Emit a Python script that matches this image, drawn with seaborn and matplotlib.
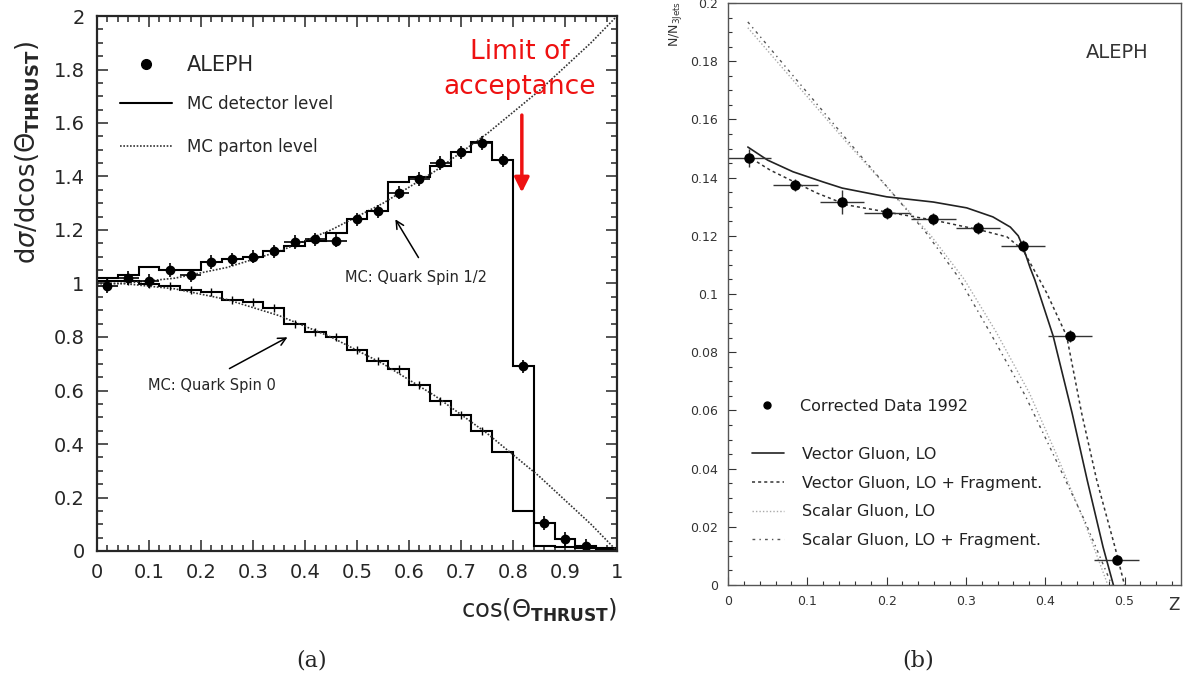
import numpy as np
import pandas as pd
import seaborn as sns
import matplotlib.pyplot as plt
from matplotlib.lines import Line2D
from matplotlib.ticker import MultipleLocator, FuncFormatter

## Data for panel (a): polar angle of the thrust axis
bin_edges = [0.00, 0.04, 0.08, 0.12, 0.16, 0.20, 0.24, 0.28, 0.32, 0.36, 0.40, 0.44, 0.48,
             0.52, 0.56, 0.60, 0.64, 0.68, 0.72, 0.76, 0.80, 0.84, 0.88, 0.92, 0.96, 1.00]
bin_centers = [0.02, 0.06, 0.10, 0.14, 0.18, 0.22, 0.26, 0.30, 0.34, 0.38, 0.42, 0.46,
               0.50, 0.54, 0.58, 0.62, 0.66, 0.70, 0.74, 0.78, 0.82, 0.86, 0.90, 0.94, 0.98]
hist_half = [1.02, 1.03, 1.06, 1.05, 1.05, 1.08, 1.09, 1.10, 1.12, 1.14, 1.16, 1.19, 1.24,
             1.27, 1.38, 1.40, 1.44, 1.49, 1.53, 1.46, 0.69, 0.105, 0.045, 0.02, 0.01]
hist_zero = [1.01, 1.01, 1.00, 0.99, 0.975, 0.97, 0.94, 0.93, 0.91, 0.85, 0.82, 0.80, 0.75,
             0.71, 0.68, 0.62, 0.56, 0.51, 0.45, 0.37, 0.15, 0.02, 0.015, 0.01, 0.005]
aleph_x = bin_centers[:24]
aleph_y = [0.99, 1.02, 1.01, 1.05, 1.03, 1.08, 1.09, 1.10, 1.12, 1.155, 1.165, 1.16, 1.24,
           1.27, 1.34, 1.39, 1.45, 1.49, 1.525, 1.46, 0.69, 0.105, 0.045, 0.02]
cos_grid = [0.00, 0.05, 0.10, 0.15, 0.20, 0.25, 0.30, 0.35, 0.40, 0.45, 0.50,
            0.55, 0.60, 0.65, 0.70, 0.75, 0.80, 0.85, 0.90, 0.95, 1.00]
parton_half = [1.00, 1.00, 1.01, 1.02, 1.04, 1.06, 1.09, 1.12, 1.16, 1.20, 1.25,
               1.30, 1.36, 1.42, 1.49, 1.56, 1.64, 1.72, 1.81, 1.90, 2.00]
parton_zero = [1.00, 1.00, 0.99, 0.98, 0.96, 0.94, 0.91, 0.88, 0.84, 0.80, 0.75,
               0.70, 0.64, 0.58, 0.51, 0.44, 0.36, 0.28, 0.19, 0.10, 0.00]

## Data for panel (b): Z distribution
z_data = [0.026, 0.085, 0.144, 0.200, 0.259, 0.315, 0.372, 0.431, 0.490]
n_data = [0.1467, 0.1375, 0.1316, 0.1278, 0.1258, 0.1227, 0.1165, 0.0856, 0.0086]
n_err = [0.003, 0.002, 0.004, 0.002, 0.002, 0.002, 0.002, 0.002, 0.001]
vg_z = [0.025, 0.05, 0.082, 0.12, 0.144, 0.2, 0.259, 0.301, 0.334, 0.356, 0.366, 0.372,
        0.381, 0.387, 0.41, 0.434, 0.453, 0.473, 0.486]
vg_n = [0.1505, 0.146, 0.142, 0.1385, 0.1364, 0.1334, 0.1316, 0.1296, 0.1265, 0.123, 0.120,
        0.1162, 0.109, 0.1048, 0.0856, 0.059, 0.036, 0.013, 0.0]
vf_z = [0.03, 0.053, 0.112, 0.15, 0.208, 0.259, 0.318, 0.352, 0.372, 0.393, 0.402, 0.427,
        0.446, 0.465, 0.488, 0.50]
vf_n = [0.1465, 0.1426, 0.1347, 0.1306, 0.1278, 0.1254, 0.122, 0.1196, 0.1151, 0.1048,
        0.1003, 0.0856, 0.059, 0.036, 0.013, 0.0]
sg_z = [0.025, 0.15, 0.256, 0.298, 0.338, 0.38, 0.414, 0.449, 0.479]
sg_n = [0.1915, 0.152, 0.120, 0.105, 0.087, 0.066, 0.045, 0.022, 0.0]
sf_z = [0.025, 0.15, 0.25, 0.29, 0.33, 0.375, 0.41, 0.45, 0.484]
sf_n = [0.1935, 0.153, 0.121, 0.106, 0.087, 0.065, 0.045, 0.022, 0.0]

sns.set_style("ticks")
plt.rcParams['font.family'] = ['DejaVu Sans']

W, H = 1183, 679
fig = plt.figure(figsize=(W / 100, H / 100), dpi=100)
ax1 = fig.add_axes([97 / W, (H - 551) / H, 520 / W, 535 / H])
ax2 = fig.add_axes([728 / W, (H - 585) / H, 453 / W, 582 / H])

fmt = FuncFormatter(lambda v, p: f'{v:g}')

# ---------------- panel (a)
dots = (0, (1, 1))
sns.lineplot(x=cos_grid, y=parton_half, ax=ax1, color='#333333', lw=1.2, linestyle=dots,
             sort=False, estimator=None)
sns.lineplot(x=cos_grid, y=parton_zero, ax=ax1, color='#333333', lw=1.2, linestyle=dots,
             sort=False, estimator=None)
ax1.stairs(hist_half, bin_edges, color='black', lw=1.5, baseline=None)
ax1.stairs(hist_zero, bin_edges, color='black', lw=1.5, baseline=None)
ax1.errorbar(bin_centers[:19], hist_zero[:19], yerr=0.015, fmt='none', ecolor='black', elinewidth=1)
ax1.errorbar(aleph_x, aleph_y, xerr=0.02, yerr=0.025, fmt='o', color='black', ms=6,
             elinewidth=1.2, capsize=0)

ax1.set_xlim(0, 1)
ax1.set_ylim(0, 2)
ax1.xaxis.set_major_locator(MultipleLocator(0.1))
ax1.xaxis.set_minor_locator(MultipleLocator(0.02))
ax1.yaxis.set_major_locator(MultipleLocator(0.2))
ax1.yaxis.set_minor_locator(MultipleLocator(0.05))
ax1.xaxis.set_major_formatter(fmt)
ax1.yaxis.set_major_formatter(fmt)
ax1.tick_params(which='both', direction='in', top=True, right=True, width=1.1, labelsize=14)
ax1.tick_params(which='major', length=8, pad=9)
ax1.tick_params(which='minor', length=4)
for s in ax1.spines.values():
    s.set_linewidth(1.6)
ax1.set_xlabel('')
ax1.set_ylabel('')

leg_a1 = ax1.legend([Line2D([], [], marker='o', ls='none', color='black', ms=7)], ['ALEPH'],
                    loc='upper left', bbox_to_anchor=(0.044, 0.927), frameon=False, fontsize=15,
                    handlelength=2.5, handletextpad=0.7, borderpad=0, borderaxespad=0)
ax1.add_artist(leg_a1)
ax1.legend([Line2D([], [], color='black', lw=1.5), Line2D([], [], color='#333333', lw=1.2, ls=dots)],
           ['MC detector level', 'MC parton level'], loc='upper left', bbox_to_anchor=(0.044, 0.852),
           frameon=False, fontsize=12, handlelength=3.1, handletextpad=0.9, labelspacing=1.5,
           borderpad=0, borderaxespad=0)

ax1.annotate('', xy=(0.571, 1.249), xytext=(0.621, 1.088),
             arrowprops=dict(arrowstyle='->', color='black', lw=1.1, mutation_scale=14))
ax1.text(0.477, 1.024, 'MC: Quark Spin 1/2', fontsize=10.5, va='center', ha='left')
ax1.annotate('', xy=(0.371, 0.804), xytext=(0.25, 0.677),
             arrowprops=dict(arrowstyle='->', color='black', lw=1.1, mutation_scale=14))
ax1.text(0.098, 0.617, 'MC: Quark Spin 0', fontsize=10.5, va='center', ha='left')

ax1.text(0.813, 1.80, 'Limit of\nacceptance', color='#ee1111', fontsize=19, ha='center',
         va='center', linespacing=1.45)
ax1.annotate('', xy=(0.817, 1.33), xytext=(0.817, 1.64),
             arrowprops=dict(arrowstyle='-|>', color='#ee1111', lw=2.5, mutation_scale=22))

fig.text(28 / W, 1 - 152 / H, r'd$\sigma$/dcos($\Theta_{\mathbf{THRUST}}$)', rotation=90,
         ha='center', va='center', fontsize=18.5)
fig.text(617 / W, 1 - 610 / H, r'cos($\Theta_{\mathbf{THRUST}}$)', ha='right', va='center',
         fontsize=17.5)

# ---------------- panel (b)
sns.lineplot(x=sg_z, y=sg_n, ax=ax2, color='#aaaaaa', lw=1.0, linestyle=(0, (1, 1.5)),
             sort=False, estimator=None)
sns.lineplot(x=sf_z, y=sf_n, ax=ax2, color='#555555', lw=1.0, linestyle=(0, (2, 3, 1, 3)),
             sort=False, estimator=None)
sns.lineplot(x=vf_z, y=vf_n, ax=ax2, color='#333333', lw=1.1, linestyle=(0, (2, 2)),
             sort=False, estimator=None)
sns.lineplot(x=vg_z, y=vg_n, ax=ax2, color='#222222', lw=1.2, sort=False, estimator=None)
ax2.errorbar(z_data, n_data, xerr=0.028, yerr=n_err, fmt='o', color='black', ms=6.5,
             elinewidth=1.0, capsize=0, ecolor='#333333')

ax2.set_xlim(0, 453 / 793)
ax2.set_ylim(0, 0.2)
ax2.xaxis.set_major_locator(MultipleLocator(0.1))
ax2.xaxis.set_minor_locator(MultipleLocator(0.02))
ax2.yaxis.set_major_locator(MultipleLocator(0.02))
ax2.yaxis.set_minor_locator(MultipleLocator(0.005))
ax2.xaxis.set_major_formatter(fmt)
ax2.yaxis.set_major_formatter(fmt)
ax2.tick_params(which='both', direction='in', labelsize=9, colors='#333333', width=0.8)
ax2.tick_params(which='major', length=6, pad=7)
ax2.tick_params(which='minor', length=3)
for s in ax2.spines.values():
    s.set_linewidth(1.0)
    s.set_color('#555555')
ax2.set_xlabel('')
ax2.set_ylabel('')

leg_b1 = ax2.legend([Line2D([], [], marker='o', ls='none', color='black', ms=5)],
                    ['Corrected Data 1992'], loc='upper left', bbox_to_anchor=(0.05, 0.32),
                    frameon=False, fontsize=11.5, handlelength=2.0, handletextpad=1.1,
                    borderpad=0, borderaxespad=0, labelcolor='#222222')
ax2.add_artist(leg_b1)
ax2.legend([Line2D([], [], color='#222222', lw=1.2),
            Line2D([], [], color='#333333', lw=1.1, ls=(0, (2, 2))),
            Line2D([], [], color='#aaaaaa', lw=1.0, ls=(0, (1, 1.5))),
            Line2D([], [], color='#555555', lw=1.0, ls=(0, (2, 3, 1, 3)))],
           ['Vector Gluon, LO', 'Vector Gluon, LO + Fragment.', 'Scalar Gluon, LO',
            'Scalar Gluon, LO + Fragment.'], loc='upper left', bbox_to_anchor=(0.053, 0.237),
           frameon=False, fontsize=11.5, handlelength=2.0, handletextpad=1.1, labelspacing=0.85,
           borderpad=0, borderaxespad=0, labelcolor='#222222')

ax2.text(0.86, 0.915, 'ALEPH', transform=ax2.transAxes, fontsize=14, color='#333333',
         ha='center', va='center')
fig.text(675 / W, 1 - 1 / H, r'N/N$_{\mathrm{3Jets}}$', rotation=90, ha='center', va='top',
         fontsize=9, color='#333333')
fig.text(1168 / W, 1 - 605 / H, 'Z', ha='left', va='center', fontsize=12, color='#333333')

fig.text(312 / W, 1 - 660 / H, '(a)', ha='center', va='center', fontsize=16, family='DejaVu Serif')
fig.text(918 / W, 1 - 660 / H, '(b)', ha='center', va='center', fontsize=16, family='DejaVu Serif')

fig.savefig('out.png', dpi=100)
